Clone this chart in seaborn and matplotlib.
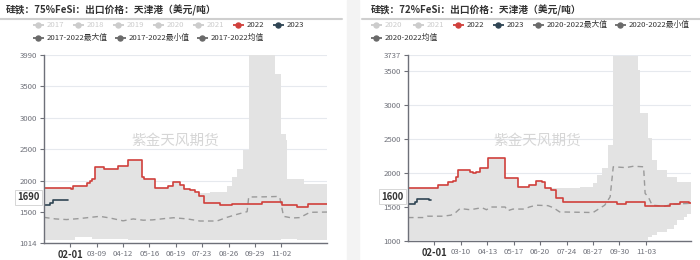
import numpy as np
import pandas as pd
import matplotlib
matplotlib.use("Agg")
import matplotlib.pyplot as plt
import seaborn as sns
from matplotlib.lines import Line2D
from matplotlib.patches import Rectangle

sns.set_theme(style="white")
plt.rcParams['font.family'] = ['Noto Sans CJK SC', 'DejaVu Sans']
plt.rcParams['axes.unicode_minus'] = False

# ---------------- data: left panel (75%FeSi) ----------------
L_title = "硅铁：75%FeSi：出口价格：天津港（美元/吨）"
L_yticks = [1014, 1500, 2000, 2500, 3000, 3500, 3990]
L_xticks = [34, 68, 102, 136, 170, 204, 238, 272, 306]
L_xlabels = ["02-01", "03-09", "04-12", "05-16", "06-19", "07-23", "08-26", "09-29", "11-02"]
L_legend_row1 = ["2017", "2018", "2019", "2020", "2021", "2022", "2023"]
L_legend_row2 = ["2017-2022最大值", "2017-2022最小值", "2017-2022均值"]
L_current = "1690"

L_2022_days = [0, 35, 37, 55, 59, 62, 66, 77, 95, 108, 126, 129, 143, 160, 166, 175, 180, 188, 195, 200, 206, 227, 242, 281, 307, 326, 341, 365]
L_2022_vals = [1890, 1870, 1920, 1960, 2000, 2020, 2220, 2190, 2240, 2320, 2060, 2030, 1890, 1920, 1980, 1930, 1870, 1850, 1820, 1760, 1640, 1620, 1635, 1665, 1610, 1585, 1625, 1625]

L_2023_days = [0, 8, 12, 31]
L_2023_vals = [1620, 1650, 1690, 1690]

L_mean_days = [0, 15, 29, 45, 60, 72, 85, 102, 115, 128, 140, 155, 167, 185, 201, 223, 236, 249, 262, 264, 285, 300, 304, 309, 320, 330, 343, 365]
L_mean_vals = [1420, 1395, 1385, 1400, 1420, 1436, 1410, 1365, 1395, 1375, 1380, 1400, 1414, 1395, 1362, 1362, 1420, 1468, 1510, 1742, 1745, 1750, 1740, 1436, 1410, 1416, 1500, 1504]

L_band_days = [0, 35, 37, 40, 55, 59, 62, 66, 77, 95, 108, 110, 126, 129, 143, 160, 166, 175, 180, 188, 195, 214, 236, 242, 249, 257, 265, 298, 306, 312, 314, 326, 335, 365]
L_band_max = [1890, 1870, 1920, 1920, 1960, 2000, 2020, 2220, 2190, 2240, 2320, 2320, 2060, 2030, 1890, 1920, 1980, 1930, 1870, 1850, 1800, 1820, 1910, 2060, 2190, 2480, 3990, 3694, 2745, 2640, 2033, 2033, 1954, 1911]
L_band_min = [1060, 1060, 1060, 1110, 1110, 1110, 1085, 1085, 1085, 1080, 1065, 1065, 1060, 1060, 1060, 1060, 1060, 1060, 1060, 1060, 1055, 1055, 1055, 1055, 1055, 1055, 1055, 1055, 1075, 1075, 1075, 1060, 1060, 1060]

# ---------------- data: right panel (72%FeSi) ----------------
R_title = "硅铁：72%FeSi：出口价格：天津港（美元/吨）"
R_yticks = [1000, 1500, 2000, 2500, 3000, 3500, 3737]
R_xticks = [34, 68, 102, 136, 170, 204, 238, 272, 306]
R_xlabels = ["02-01", "03-10", "04-13", "05-17", "06-20", "07-24", "08-27", "09-30", "11-03"]
R_legend_row1 = ["2020", "2021", "2022", "2023", "2020-2022最大值", "2020-2022最小值"]
R_legend_row2 = ["2020-2022均值"]
R_current = "1600"

R_2022_days = [0, 39, 52, 58, 62, 64, 75, 80, 83, 88, 92, 103, 125, 142, 156, 165, 172, 176, 184, 191, 199, 269, 281, 305, 337, 350, 362, 364]
R_2022_vals = [1773, 1822, 1871, 1880, 1945, 2044, 2044, 2010, 1995, 2020, 2069, 2216, 1921, 1797, 1822, 1881, 1870, 1773, 1748, 1626, 1576, 1542, 1576, 1512, 1542, 1576, 1560, 1560]

R_2023_days = [0, 9, 11, 27, 30]
R_2023_vals = [1542, 1576, 1611, 1600, 1600]

R_mean_days = [0, 20, 25, 45, 55, 60, 67, 80, 95, 101, 106, 125, 128, 135, 150, 156, 165, 180, 187, 195, 238, 253, 260, 264, 280, 290, 303, 305, 309, 314, 330, 341, 364]
R_mean_vals = [1345, 1345, 1365, 1365, 1380, 1405, 1478, 1460, 1490, 1460, 1500, 1500, 1445, 1470, 1470, 1500, 1527, 1520, 1490, 1428, 1419, 1527, 1650, 2092, 2080, 2100, 2092, 1700, 1650, 1527, 1512, 1542, 1555]

R_band_days = [0, 39, 52, 58, 62, 64, 75, 80, 83, 88, 92, 103, 125, 142, 156, 165, 172, 176, 221, 238, 243, 249, 257, 264, 296, 298, 302, 309, 314, 320, 333, 342, 346, 355, 359, 364]
R_band_max = [1773, 1822, 1871, 1880, 1945, 2044, 2044, 2010, 1995, 2020, 2069, 2216, 1921, 1797, 1822, 1881, 1870, 1773, 1797, 1847, 1970, 2069, 2413, 3716, 3520, 2880, 2880, 2512, 2191, 2044, 1945, 1945, 1871, 1871, 1871, 1871]
R_band_min = [1010, 1010, 1010, 1010, 1010, 1010, 1010, 1010, 1010, 1010, 1010, 1010, 1010, 1010, 1010, 1010, 1010, 1010, 1010, 1010, 1010, 1010, 1010, 1010, 1010, 1010, 1010, 1059, 1084, 1133, 1183, 1232, 1306, 1350, 1404, 1404]

# ---------------- styling ----------------
W, H = 700, 260
RED = "#d0403c"
NAVY = "#2f4554"
BAND = "#e3e3e3"
DASH = "#9a9a9a"
AXC = "#6e7079"
GRID = "#e6e9ee"
OFF = "#cccccc"
STAT = "#6a6a6a"

fig = plt.figure(figsize=(7, 2.6), dpi=100)
fig.patch.set_facecolor("white")


def fx(px):
    return px / W


def fy(py):
    return 1 - py / H


def legend_item(x, y, color, label, tcolor):
    fig.add_artist(Line2D([fx(x), fx(x + 10.5)], [fy(y), fy(y)], color=color, lw=1.3,
                          transform=fig.transFigure, solid_capstyle="butt"))
    fig.add_artist(Line2D([fx(x + 5.25)], [fy(y)], marker="o", ms=3.6, color=color, mec=color,
                          transform=fig.transFigure))
    fig.text(fx(x + 14), fy(y), label, fontsize=5.6, color=tcolor, va="center", ha="left")


def draw_panel(box, ylim, yticks, xmax, xticks, xlabels, band, r22, r23, mean):
    x0, x1, y0, y1 = box
    ax = fig.add_axes([fx(x0), fy(y1), fx(x1 - x0), (y1 - y0) / H])
    ax.set_facecolor("none")
    bd, bmax, bmin = band
    ax.fill_between(bd, bmin, bmax, step="post", color=BAND, lw=0, zorder=1)
    dfm = pd.DataFrame({"day": mean[0], "val": mean[1]})
    sns.lineplot(data=dfm, x="day", y="val", ax=ax, color=DASH, lw=1.0,
                 linestyle=(0, (4, 3)), estimator=None, sort=False, zorder=3)
    df22 = pd.DataFrame({"day": r22[0], "val": r22[1]})
    sns.lineplot(data=df22, x="day", y="val", ax=ax, color=RED, lw=1.2,
                 drawstyle="steps-post", estimator=None, sort=False, zorder=4)
    df23 = pd.DataFrame({"day": r23[0], "val": r23[1]})
    sns.lineplot(data=df23, x="day", y="val", ax=ax, color=NAVY, lw=1.2,
                 drawstyle="steps-post", estimator=None, sort=False, zorder=5)
    ax.set_xlim(0, xmax)
    ax.set_ylim(*ylim)
    ax.set_yticks(yticks)
    ax.set_yticklabels([str(t) for t in yticks])
    ax.set_xticks(xticks)
    ax.set_xticklabels(xlabels)
    ax.set_xlabel("")
    ax.set_ylabel("")
    for t in yticks:
        ax.axhline(t, color=GRID, lw=0.8, zorder=0)
    for s in ["top", "right"]:
        ax.spines[s].set_visible(False)
    for s in ["left", "bottom"]:
        ax.spines[s].set_color(AXC)
        ax.spines[s].set_linewidth(1.0)
        ax.spines[s].set_zorder(6)
    ax.tick_params(axis="both", which="major", length=3, width=0.8, color=AXC,
                   labelsize=5.6, labelcolor=AXC, pad=2, left=True, bottom=True)
    lbls = ax.get_xticklabels()
    lbls[0].set_fontweight("bold")
    lbls[0].set_fontsize(6.8)
    lbls[0].set_color("#333333")
    return ax


# left panel
axL = draw_panel((44, 327, 55, 243), (1014, 3990), L_yticks, 365, L_xticks, L_xlabels,
                 (L_band_days, L_band_max, L_band_min),
                 (L_2022_days, L_2022_vals), (L_2023_days, L_2023_vals),
                 (L_mean_days, L_mean_vals))
# right panel
axR = draw_panel((408, 691, 55, 241), (1000, 3737), R_yticks, 364, R_xticks, R_xlabels,
                 (R_band_days, R_band_max, R_band_min),
                 (R_2022_days, R_2022_vals), (R_2023_days, R_2023_vals),
                 (R_mean_days, R_mean_vals))

# separator strip
fig.patches.append(Rectangle((fx(346.5), 0), fx(12), 1, transform=fig.transFigure,
                             color="#f3f3f3", zorder=0))

# titles and rules
fig.text(fx(6), fy(10), L_title, fontsize=7, fontweight="bold", color="#333333", va="center")
fig.text(fx(371), fy(10), R_title, fontsize=7, fontweight="bold", color="#333333", va="center")
fig.add_artist(Line2D([0, fx(342)], [fy(18.5), fy(18.5)], color="#cfcfcf", lw=1.5, transform=fig.transFigure))
fig.add_artist(Line2D([fx(362), 1], [fy(18.5), fy(18.5)], color="#cfcfcf", lw=1.5, transform=fig.transFigure))

# legends
L_row1_x = [33, 73, 113, 153, 193, 233, 273]
L_row1_c = [OFF, OFF, OFF, OFF, OFF, RED, NAVY]
for x, lab, c in zip(L_row1_x, L_legend_row1, L_row1_c):
    legend_item(x, 25, c, lab, OFF if c == OFF else "#333333")
for x, lab in zip([33, 115, 197], L_legend_row2):
    legend_item(x, 38, STAT, lab, "#333333")

R_row1_x = [371, 413, 453, 493, 533, 615]
R_row1_c = [OFF, OFF, RED, NAVY, STAT, STAT]
for x, lab, c in zip(R_row1_x, R_legend_row1, R_row1_c):
    legend_item(x, 25, c, lab, OFF if c == OFF else "#333333")
for x, lab in zip([371], R_legend_row2):
    legend_item(x, 38, STAT, lab, "#333333")

# watermarks
fig.text(fx(131), fy(141), "紫金天风期货", fontsize=10.5, color="#d6d6d6", va="center", ha="left", zorder=7)
fig.text(fx(493), fy(141), "紫金天风期货", fontsize=10.5, color="#d6d6d6", va="center", ha="left", zorder=7)

# current-value pointer labels
box = dict(boxstyle="square,pad=0.25", fc="white", ec="#d0d0d0", lw=0.6)
fig.text(fx(39.5), fy(197.5), L_current, fontsize=6.8, fontweight="bold", color="#333333",
         va="center", ha="right", bbox=box, zorder=8)
fig.text(fx(403.5), fy(196.5), R_current, fontsize=6.8, fontweight="bold", color="#333333",
         va="center", ha="right", bbox=box, zorder=8)

fig.savefig("out.png", dpi=100)
